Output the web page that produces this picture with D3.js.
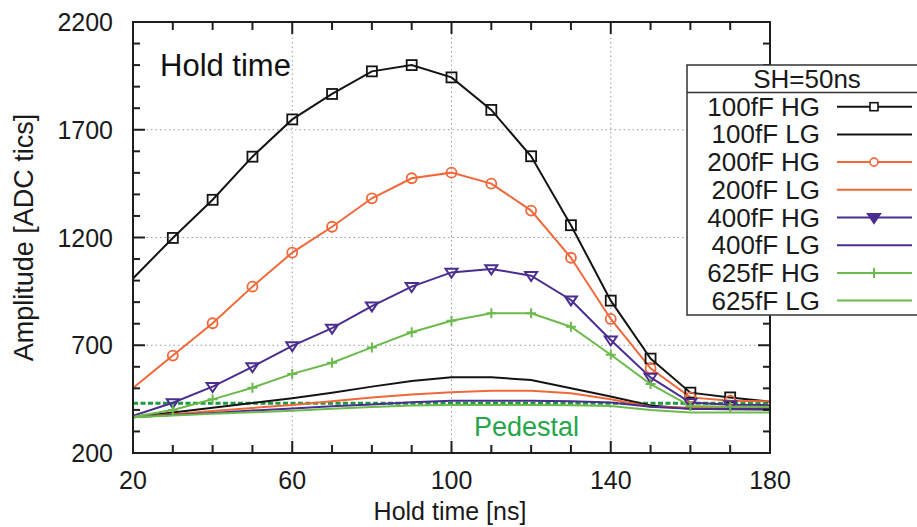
<!DOCTYPE html>
<html>
<head>
<meta charset="utf-8">
<script src="https://cdn.jsdelivr.net/npm/d3@7"></script>
<style>
  html, body { margin: 0; padding: 0; background: #fff; }
  svg { display: block; font-family: "Liberation Sans", Arial, sans-serif; }
</style>
</head>
<body>
<svg id="chart" width="917" height="527"></svg>
<script>
// ---- data ----
const holdTimes = [20, 30, 40, 50, 60, 70, 80, 90, 100, 110, 120, 130, 140, 150, 160, 170, 180];
const hg100 = [1010, 1198, 1375, 1575, 1748, 1866, 1971, 2000, 1943, 1792, 1577, 1257, 907, 638, 480, 458, 438];
const lg100 = [366, 388, 410, 432, 454, 480, 508, 534, 551, 551, 539, 500, 462, 420, 405, 403, 402];
const hg200 = [502, 652, 802, 972, 1130, 1250, 1382, 1475, 1501, 1450, 1325, 1106, 822, 593, 458, 443, 440];
const lg200 = [366, 380, 395, 409, 423, 440, 458, 472, 482, 489, 489, 477, 449, 415, 410, 410, 410];
const hg400 = [373, 433, 508, 600, 697, 779, 882, 972, 1038, 1054, 1023, 910, 724, 551, 434, 424, 422];
const lg400 = [366, 376, 386, 397, 407, 417, 425, 435, 443, 443, 443, 440, 434, 415, 405, 404, 404];
const hg625 = [368, 400, 449, 503, 567, 619, 690, 760, 814, 848, 848, 786, 656, 520, 418, 415, 415];
const lg625 = [366, 374, 382, 389, 396, 405, 413, 420, 423, 423, 423, 422, 418, 400, 388, 388, 388];
const pedestal = 431;

const seriesNames = ["100fF HG", "100fF LG", "200fF HG", "200fF LG", "400fF HG", "400fF LG", "625fF HG", "625fF LG"];
const seriesValues = [hg100, lg100, hg200, lg200, hg400, lg400, hg625, lg625];
const seriesColors = ["#141414", "#141414", "#f0683a", "#f0683a", "#4a2d8f", "#4a2d8f", "#6cba4c", "#6cba4c"];
const seriesMarkers = ["square", null, "circle", null, "tridown", null, "plus", null];

const xTicks = [20, 60, 100, 140, 180];
const yTicks = [200, 700, 1200, 1700, 2200];
const legendTitle = "SH=50ns";

// ---- layout ----
const svg = d3.select("#chart");
const x = d3.scaleLinear().domain([20, 180]).range([133, 770]);
const y = d3.scaleLinear().domain([200, 2200]).range([453, 22]);
const X0 = x.range()[0], X1 = x.range()[1], Y0 = y.range()[0], Y1 = y.range()[1];

// grid
const gridX = xTicks.filter(t => t > 20 && t < 180);
const gridY = yTicks.filter(t => t > 200 && t < 2200);
const grid = svg.append("g").attr("stroke", "#9a9a9a").attr("stroke-width", 1).attr("stroke-dasharray", "1.5,3");
grid.selectAll(".gx").data(gridX).join("line")
  .attr("x1", d => x(d)).attr("x2", d => x(d)).attr("y1", Y0).attr("y2", Y1);
grid.selectAll(".gy").data(gridY).join("line")
  .attr("x1", X0).attr("x2", X1).attr("y1", d => y(d)).attr("y2", d => y(d));

// clip
svg.append("clipPath").attr("id", "clip").append("rect")
  .attr("x", X0).attr("y", Y1).attr("width", X1 - X0).attr("height", Y0 - Y1);

const plot = svg.append("g").attr("clip-path", "url(#clip)");

// pedestal
plot.append("line")
  .attr("x1", X0).attr("x2", X1).attr("y1", y(pedestal)).attr("y2", y(pedestal))
  .attr("stroke", "#1b9a3e").attr("stroke-width", 3).attr("stroke-dasharray", "5,2.5");

const line = d3.line().x((d, i) => x(holdTimes[i])).y(d => y(d));

// draw LG lines first, then HG
const order = [1, 3, 5, 7, 0, 2, 4, 6];
order.forEach(k => {
  plot.append("path").attr("d", line(seriesValues[k]))
    .attr("fill", "none").attr("stroke", seriesColors[k]).attr("stroke-width", 2);
});

function drawMarker(g, type, cx, cy, color, filled) {
  if (type === "square") {
    g.append("rect").attr("x", cx - 5).attr("y", cy - 5).attr("width", 10).attr("height", 10)
      .attr("fill", "none").attr("stroke", color).attr("stroke-width", 1.8);
  } else if (type === "circle") {
    g.append("circle").attr("cx", cx).attr("cy", cy).attr("r", 5)
      .attr("fill", "none").attr("stroke", color).attr("stroke-width", 1.8);
  } else if (type === "tridown") {
    const s = 6;
    g.append("path").attr("d", `M${cx - s},${cy - s * 0.6}L${cx + s},${cy - s * 0.6}L${cx},${cy + s * 0.9}Z`)
      .attr("fill", filled ? color : "none").attr("stroke", color).attr("stroke-width", 2);
  } else if (type === "plus") {
    g.append("path").attr("d", `M${cx - 5},${cy}L${cx + 5},${cy}M${cx},${cy - 5}L${cx},${cy + 5}`)
      .attr("stroke", color).attr("stroke-width", 2);
  }
}

order.forEach(k => {
  if (!seriesMarkers[k]) return;
  seriesValues[k].forEach((v, i) => {
    const t = holdTimes[i];
    if (t <= 20 || t >= 180) return;
    drawMarker(plot, seriesMarkers[k], x(t), y(v), seriesColors[k], false);
  });
});

// border
svg.append("rect").attr("x", X0).attr("y", Y1).attr("width", X1 - X0).attr("height", Y0 - Y1)
  .attr("fill", "none").attr("stroke", "#1e1e1e").attr("stroke-width", 2);

// ticks (inward, all four sides)
const ticksG = svg.append("g").attr("stroke", "#1e1e1e").attr("stroke-width", 2);
const xMinor = d3.range(20, 181, 10);
const yMinor = d3.range(200, 2201, 100);
xMinor.forEach(t => {
  const L = xTicks.includes(t) ? 12 : 8;
  ticksG.append("line").attr("x1", x(t)).attr("x2", x(t)).attr("y1", Y0).attr("y2", Y0 - L);
  ticksG.append("line").attr("x1", x(t)).attr("x2", x(t)).attr("y1", Y1).attr("y2", Y1 + L);
});
yMinor.forEach(t => {
  const L = yTicks.includes(t) ? 12 : 7;
  ticksG.append("line").attr("x1", X0).attr("x2", X0 + L).attr("y1", y(t)).attr("y2", y(t));
  ticksG.append("line").attr("x1", X1).attr("x2", X1 - L).attr("y1", y(t)).attr("y2", y(t));
});

// tick labels
svg.append("g").selectAll("text").data(xTicks).join("text")
  .attr("x", d => x(d)).attr("y", 489).attr("text-anchor", "middle")
  .attr("font-size", 25).attr("fill", "#1a1a1a").text(d => d);
svg.append("g").selectAll("text").data(yTicks).join("text")
  .attr("x", 113).attr("y", d => y(d) + 9).attr("text-anchor", "end")
  .attr("font-size", 25).attr("fill", "#1a1a1a").text(d => d);

// axis titles
svg.append("text").attr("x", 450).attr("y", 520).attr("text-anchor", "middle")
  .attr("font-size", 25).attr("fill", "#1a1a1a").text("Hold time [ns]");
svg.append("text").attr("transform", `translate(33,${(Y0 + Y1) / 2}) rotate(-90)`)
  .attr("text-anchor", "middle").attr("font-size", 27).attr("fill", "#1a1a1a").text("Amplitude [ADC tics]");

// annotations
svg.append("text").attr("x", 160).attr("y", 76).attr("font-size", 31).attr("fill", "#111").text("Hold time");
svg.append("text").attr("x", 474).attr("y", 436).attr("font-size", 27).attr("fill", "#25a64a").text("Pedestal");

// legend
const lg = svg.append("g");
lg.append("rect").attr("x", 687).attr("y", 65).attr("width", 260).attr("height", 250)
  .attr("fill", "#fff").attr("stroke", "#333").attr("stroke-width", 1.5);
lg.append("line").attr("x1", 687).attr("x2", 947).attr("y1", 92.5).attr("y2", 92.5)
  .attr("stroke", "#333").attr("stroke-width", 1.5);
lg.append("text").attr("x", 807).attr("y", 88).attr("text-anchor", "middle")
  .attr("font-size", 26).attr("fill", "#1a1a1a").text(legendTitle);
seriesNames.forEach((name, k) => {
  const cy = 106.7 + k * 27.7;
  lg.append("text").attr("x", 820).attr("y", cy + 9).attr("text-anchor", "end")
    .attr("font-size", 26).attr("fill", "#1a1a1a").text(name);
  lg.append("line").attr("x1", 837).attr("x2", 912).attr("y1", cy).attr("y2", cy)
    .attr("stroke", seriesColors[k]).attr("stroke-width", 2);
  if (seriesMarkers[k]) {
    const g = lg.append("g");
    if (seriesMarkers[k] === "square") {
      g.append("rect").attr("x", 874 - 4).attr("y", cy - 4).attr("width", 8).attr("height", 8)
        .attr("fill", "#fff").attr("stroke", seriesColors[k]).attr("stroke-width", 1.6);
    } else if (seriesMarkers[k] === "circle") {
      g.append("circle").attr("cx", 874).attr("cy", cy).attr("r", 4)
        .attr("fill", "#fff").attr("stroke", seriesColors[k]).attr("stroke-width", 1.6);
    } else {
      drawMarker(g, seriesMarkers[k], 874, cy, seriesColors[k], true);
    }
  }
});
</script>
</body>
</html>
